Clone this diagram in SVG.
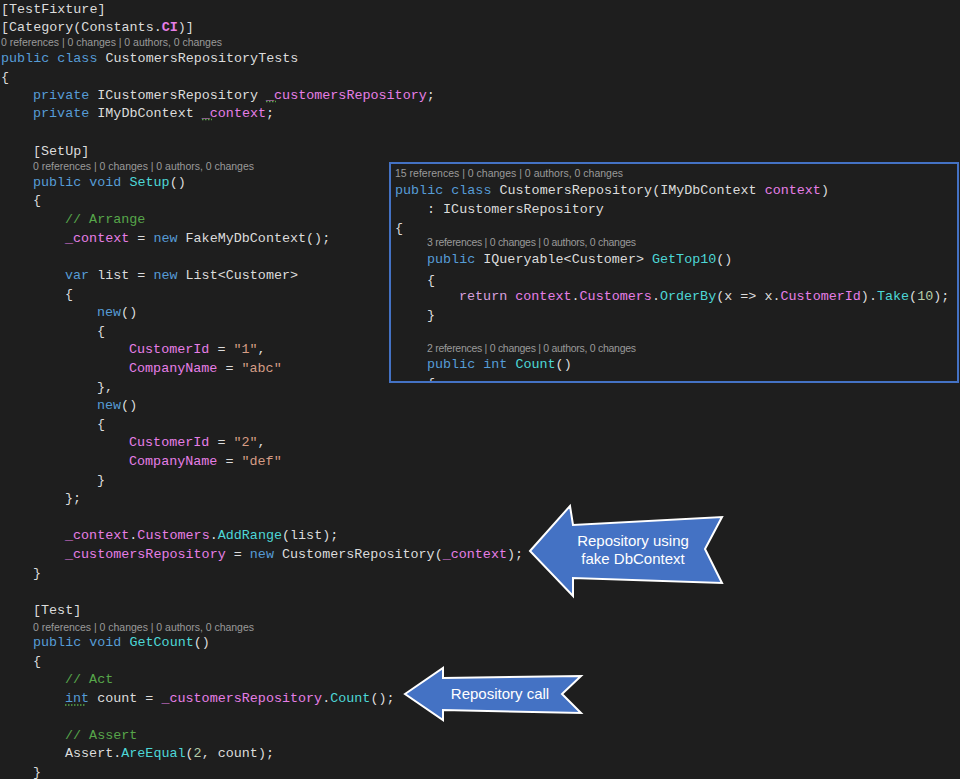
<svg xmlns="http://www.w3.org/2000/svg" width="960" height="779" viewBox="0 0 960 779" xml:space="preserve">
<style>
.c{font-family:"Liberation Mono",monospace;font-size:13.4px;fill:#dcdcdc}
.s{font-family:"Liberation Sans",sans-serif;font-size:10.5px;fill:#9a9a9a}
.k{fill:#569cd6}.f{fill:#e67ee6}.m{fill:#4dd7d7}.st{fill:#d69d85}.cm{fill:#57a64a}.n{fill:#b5cea8}.r{fill:#d8a0df}
.a{fill:#4472c4;stroke:#ffffff;stroke-width:2}
.at{font-family:"Liberation Sans",sans-serif;font-size:15px;fill:#ffffff;text-anchor:middle}
.u{stroke:#57a64a;stroke-width:1.5;stroke-dasharray:1.5 1.5}
</style>
<rect width="960" height="779" fill="#1e1e1e"/>
<g id="code">
<text class="c" x="1" y="13">[TestFixture]</text>
<text class="c" x="1" y="31">[Category(Constants.<tspan class="f" font-weight="bold">CI</tspan>)]</text>
<text class="s" x="1" y="46" textLength="221">0 references | 0 changes | 0 authors, 0 changes</text>
<text class="c" x="1" y="62"><tspan class="k">public class</tspan> CustomersRepositoryTests</text>
<text class="c" x="1" y="81">{</text>
<text class="c" x="33" y="99"><tspan class="k">private</tspan> ICustomersRepository <tspan class="f">_customersRepository</tspan>;</text>
<text class="c" x="33" y="117"><tspan class="k">private</tspan> IMyDbContext <tspan class="f">_context</tspan>;</text>
<line class="u" x1="266" y1="101.5" x2="276" y2="101.5"/>
<line class="u" x1="202" y1="119.5" x2="212" y2="119.5"/>
<text class="c" x="33" y="155">[SetUp]</text>
<text class="s" x="33" y="170" textLength="221">0 references | 0 changes | 0 authors, 0 changes</text>
<text class="c" x="33" y="186"><tspan class="k">public void</tspan> <tspan class="m">Setup</tspan>()</text>
<text class="c" x="33" y="204">{</text>
<text class="c" x="65" y="223"><tspan class="cm">// Arrange</tspan></text>
<text class="c" x="65" y="242"><tspan class="f">_context</tspan> = <tspan class="k">new</tspan> FakeMyDbContext();</text>
<text class="c" x="65" y="279"><tspan class="k">var</tspan> list = <tspan class="k">new</tspan> List&lt;Customer&gt;</text>
<text class="c" x="65" y="298">{</text>
<text class="c" x="97" y="316"><tspan class="k">new</tspan>()</text>
<text class="c" x="97" y="335">{</text>
<text class="c" x="129" y="353"><tspan class="f">CustomerId</tspan> = <tspan class="st">"1"</tspan>,</text>
<text class="c" x="129" y="372"><tspan class="f">CompanyName</tspan> = <tspan class="st">"abc"</tspan></text>
<text class="c" x="97" y="391">},</text>
<text class="c" x="97" y="409"><tspan class="k">new</tspan>()</text>
<text class="c" x="97" y="428">{</text>
<text class="c" x="129" y="446"><tspan class="f">CustomerId</tspan> = <tspan class="st">"2"</tspan>,</text>
<text class="c" x="129" y="465"><tspan class="f">CompanyName</tspan> = <tspan class="st">"def"</tspan></text>
<text class="c" x="97" y="484">}</text>
<text class="c" x="65" y="502">};</text>
<text class="c" x="65" y="539"><tspan class="f">_context</tspan>.<tspan class="f">Customers</tspan>.<tspan class="m">AddRange</tspan>(list);</text>
<text class="c" x="65" y="558"><tspan class="f">_customersRepository</tspan> = <tspan class="k">new</tspan> CustomersRepository(<tspan class="f">_context</tspan>);</text>
<text class="c" x="33" y="577">}</text>
<text class="c" x="33" y="614">[Test]</text>
<text class="s" x="33" y="631" textLength="221">0 references | 0 changes | 0 authors, 0 changes</text>
<text class="c" x="33" y="646"><tspan class="k">public void</tspan> <tspan class="m">GetCount</tspan>()</text>
<text class="c" x="33" y="665">{</text>
<text class="c" x="65" y="683"><tspan class="cm">// Act</tspan></text>
<text class="c" x="65" y="702"><tspan class="k">int</tspan> count = <tspan class="f">_customersRepository</tspan>.<tspan class="m">Count</tspan>();</text>
<line class="u" x1="65" y1="705" x2="86" y2="705"/>
<text class="c" x="65" y="739"><tspan class="cm">// Assert</tspan></text>
<text class="c" x="65" y="757">Assert.<tspan class="m">AreEqual</tspan>(<tspan class="n">2</tspan>, count);</text>
<text class="c" x="33" y="776">}</text>
</g>
<g id="repo-box">
<clipPath id="bc"><rect x="390" y="163" width="568" height="219"/></clipPath>
<rect x="390" y="163" width="568" height="219" fill="#1e1e1e"/>
<g clip-path="url(#bc)">
<text class="s" x="395" y="177" textLength="228">15 references | 0 changes | 0 authors, 0 changes</text>
<text class="c" x="395" y="194"><tspan class="k">public class</tspan> CustomersRepository(IMyDbContext <tspan class="f">context</tspan>)</text>
<text class="c" x="427" y="213">: ICustomersRepository</text>
<text class="c" x="395" y="232">{</text>
<text class="s" x="427" y="246" textLength="209">3 references | 0 changes | 0 authors, 0 changes</text>
<text class="c" x="427" y="263"><tspan class="k">public</tspan> IQueryable&lt;Customer&gt; <tspan class="m">GetTop10</tspan>()</text>
<text class="c" x="427" y="284">{</text>
<text class="c" x="459" y="300"><tspan class="r">return</tspan> <tspan class="f">context</tspan>.<tspan class="f">Customers</tspan>.<tspan class="m">OrderBy</tspan>(x =&gt; x.<tspan class="f">CustomerId</tspan>).<tspan class="m">Take</tspan>(<tspan class="n">10</tspan>);</text>
<text class="c" x="427" y="319">}</text>
<text class="s" x="427" y="352" textLength="209">2 references | 0 changes | 0 authors, 0 changes</text>
<text class="c" x="427" y="368"><tspan class="k">public int</tspan> <tspan class="m">Count</tspan>()</text>
<text class="c" x="427" y="387">{</text>
</g>
<rect x="390" y="163" width="568" height="219" fill="none" stroke="#4472c4" stroke-width="2"/>
</g>
<g id="callout-1">
<path class="a" d="M530,551 L570,506 L573,525 L722,517 L705,549 L722,583 L573,578 L573,596 Z"/>
<text class="at" x="633" y="546">Repository using</text>
<text class="at" x="633" y="564">fake DbContext</text>
</g>
<g id="callout-2">
<path class="a" d="M405,694 L443,668 L443,678 L581,676 L562,694 L581,713 L443,710 L443,720 Z"/>
<text class="at" x="500" y="699">Repository call</text>
</g>
</svg>
